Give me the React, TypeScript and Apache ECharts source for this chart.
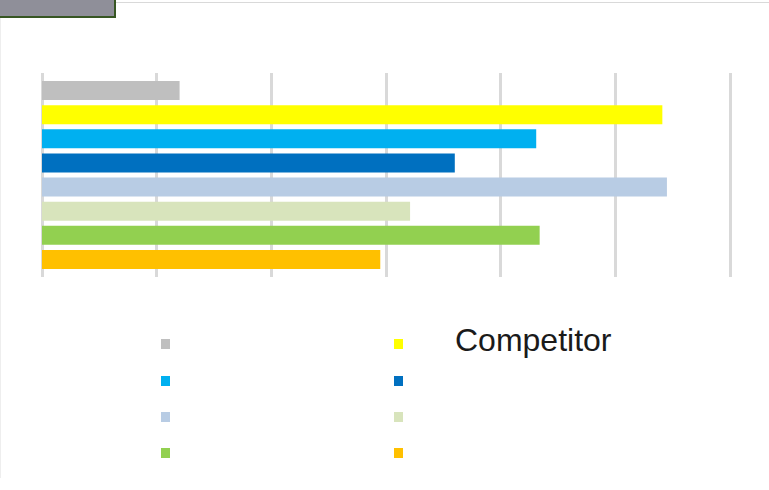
import React, { useEffect, useRef } from "react";
import * as echarts from "echarts";

const categories = [""];
const seriesNames = ["Series 1", "Competitor", "Series 3", "Series 4", "Series 5", "Series 6", "Series 7", "Series 8"];
const seriesValues = [1.2, 5.41, 4.31, 3.6, 5.45, 3.21, 4.34, 2.95];
const seriesColors = ["#bfbfbf", "#ffff00", "#00b0f0", "#0070c0", "#b8cce4", "#d8e4bc", "#92d050", "#ffc000"];
const legendCols = [161, 394];
const legendRows = [339, 376, 412, 448];

export default function App() {
  const ref = useRef<HTMLDivElement>(null);
  useEffect(() => {
    if (!ref.current) return;
    const chart = echarts.init(ref.current, undefined, { renderer: "svg" });
    const series = seriesNames.map((name, i) => ({
      name,
      type: "bar" as const,
      data: [seriesValues[i]],
      barWidth: 19,
      barGap: "27%",
      itemStyle: { color: seriesColors[i] },
    }));
    const legends = seriesNames.map((name, i) => ({
      data: [name],
      left: legendCols[i % 2],
      top: legendRows[Math.floor(i / 2)],
      padding: 0,
      icon: "rect",
      itemWidth: 9,
      itemHeight: 10,
      selectedMode: false,
      formatter: () => "",
    }));
    chart.setOption({
      animation: false,
      backgroundColor: "#ffffff",
      grid: { left: 42, right: 39, top: 73, bottom: 213, containLabel: false },
      xAxis: {
        type: "value",
        min: 0,
        max: 6,
        interval: 1,
        axisLabel: { show: false },
        axisLine: { show: false },
        axisTick: { show: false },
        splitLine: { show: true, lineStyle: { color: "#d9d9d9", width: 3 } },
      },
      yAxis: {
        type: "category",
        data: categories,
        inverse: true,
        axisLabel: { show: false },
        axisLine: { show: false },
        axisTick: { show: false },
      },
      legend: legends,
      series,
      graphic: [
        {
          type: "line",
          shape: { x1: 115, y1: 2.5, x2: 769, y2: 2.5 },
          style: { stroke: "#d9d9d9", lineWidth: 1 },
          silent: true,
        },
        {
          type: "line",
          shape: { x1: 0.5, y1: 17, x2: 0.5, y2: 478 },
          style: { stroke: "#eeeeee", lineWidth: 1 },
          silent: true,
        },
        {
          type: "rect",
          shape: { x: -1, y: -1, width: 116, height: 18 },
          style: { fill: "#8f8f99", stroke: "#375623", lineWidth: 2 },
          silent: true,
        },
        {
          type: "text",
          x: 455,
          y: 340,
          style: {
            text: "Competitor",
            fontSize: 32,
            fontFamily: "Liberation Sans, Arial, sans-serif",
            fill: "#1a1a1a",
            textAlign: "left",
            textVerticalAlign: "middle",
          },
          silent: true,
        },
      ],
    });
    return () => chart.dispose();
  }, []);
  return (
    <div
      ref={ref}
      style={{ position: "fixed", left: 0, top: 0, width: 769, height: 490 }}
    />
  );
}
